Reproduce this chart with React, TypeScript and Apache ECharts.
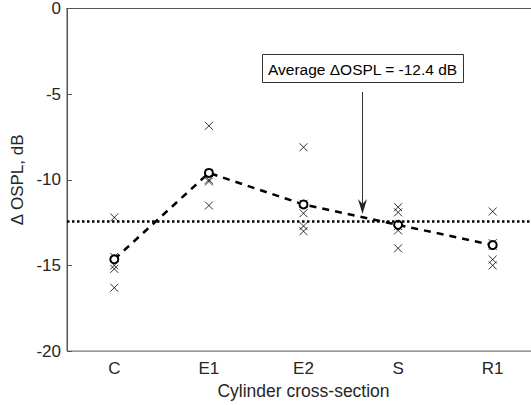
import React, { useEffect, useRef } from "react";
import * as echarts from "echarts";

const categories = ["C", "E1", "E2", "S", "R1"];
const samplesC = [-12.2, -14.5, -15.0, -15.2, -16.3];
const samplesE1 = [-6.85, -9.6, -10.0, -10.1, -11.5];
const samplesE2 = [-8.1, -11.4, -11.95, -12.7, -13.0];
const samplesS = [-11.6, -11.9, -12.7, -12.95, -14.0];
const samplesR1 = [-11.85, -13.7, -13.85, -14.65, -15.0];
const meanValues = [-14.64, -9.6, -11.44, -12.63, -13.81];
const averageOSPL = -12.4;
const yTicks = { min: -20, max: 0, interval: 5 };

const FONT = "'Liberation Sans', Arial, sans-serif";
const AXIS = "#555555";
const TEXT = "#262626";

export default function App() {
  const ref = useRef<HTMLDivElement>(null);
  useEffect(() => {
    if (!ref.current) return;
    const chart = echarts.init(ref.current, undefined, { renderer: "svg" });
    const groups = [samplesC, samplesE1, samplesE2, samplesS, samplesR1];
    const crossData: number[][] = [];
    groups.forEach((g, i) => g.forEach((v) => crossData.push([i, v])));
    chart.setOption({
      animation: false,
      backgroundColor: "#ffffff",
      textStyle: { fontFamily: FONT },
      grid: {
        left: 67, top: 7, width: 473, height: 345,
        show: true, borderColor: AXIS, borderWidth: 1, backgroundColor: "transparent",
      },
      xAxis: [
        {
          type: "category", data: categories, boundaryGap: true,
          name: "Cylinder cross-section", nameLocation: "middle", nameGap: 30,
          nameTextStyle: { fontSize: 17.5, color: TEXT, fontFamily: FONT },
          axisLine: { lineStyle: { color: AXIS, width: 1 } },
          axisTick: { inside: true, alignWithLabel: true, length: 5, lineStyle: { color: AXIS } },
          axisLabel: { fontSize: 17, color: TEXT, margin: 9, fontFamily: FONT },
          splitLine: { show: false },
        },
        {
          type: "category", data: categories, position: "top", boundaryGap: true,
          axisLine: { lineStyle: { color: AXIS, width: 1 } },
          axisTick: { inside: true, alignWithLabel: true, length: 5, lineStyle: { color: AXIS } },
          axisLabel: { show: false },
        },
      ],
      yAxis: {
        type: "value", min: yTicks.min, max: yTicks.max, interval: yTicks.interval,
        name: "\u0394 OSPL, dB", nameLocation: "middle", nameGap: 35, nameRotate: 90,
        nameTextStyle: { fontSize: 17, color: TEXT, fontFamily: FONT },
        axisLine: { show: true, lineStyle: { color: AXIS, width: 1 } },
        axisTick: { show: true, inside: true, length: 5, lineStyle: { color: AXIS } },
        axisLabel: { fontSize: 17, color: TEXT, margin: 6, fontFamily: FONT },
        splitLine: { show: false },
      },
      series: [
        {
          type: "scatter",
          data: crossData,
          symbol: "path://M0,0L10,10M10,0L0,10",
          symbolSize: 8,
          itemStyle: { color: "transparent", borderColor: "#000", borderWidth: 1 },
          z: 3,
        },
        {
          type: "line",
          data: meanValues.map((v, i) => [i, v]),
          symbol: "emptyCircle",
          symbolSize: 8,
          itemStyle: { color: "#000", borderColor: "#000", borderWidth: 2.5 },
          lineStyle: { color: "#000", width: 2.5, type: [7, 6] },
          z: 4,
          markLine: {
            silent: true,
            symbol: "none",
            label: { show: false },
            lineStyle: { color: "#000", width: 2.5, type: [2.5, 2.5] },
            data: [{ yAxis: averageOSPL }],
          },
        },
      ],
      graphic: [
        {
          type: "rect", shape: { x: 262.5, y: 54.5, width: 201, height: 28 },
          style: { fill: "#fff", stroke: "#333", lineWidth: 1 }, z: 10,
        },
        {
          type: "text", x: 268, y: 69,
          style: {
            text: "Average \u0394OSPL = -12.4 dB", fontSize: 15.5, fontFamily: FONT,
            fill: "#000", verticalAlign: "middle", align: "left",
          }, z: 11,
        },
        {
          type: "line", shape: { x1: 362.5, y1: 92, x2: 362.5, y2: 206 },
          style: { stroke: "#333", lineWidth: 1 }, z: 10,
        },
        {
          type: "polygon",
          shape: { points: [[358, 199], [362.5, 214], [367, 199], [362.5, 204]] },
          style: { fill: "#222" }, z: 10,
        },
      ],
    });
    return () => chart.dispose();
  }, []);
  return (
    <div style={{ position: "fixed", left: 0, top: 0, width: 531, height: 405, overflow: "hidden", background: "#fff" }}>
      <div ref={ref} style={{ width: 545, height: 405 }} />
    </div>
  );
}
